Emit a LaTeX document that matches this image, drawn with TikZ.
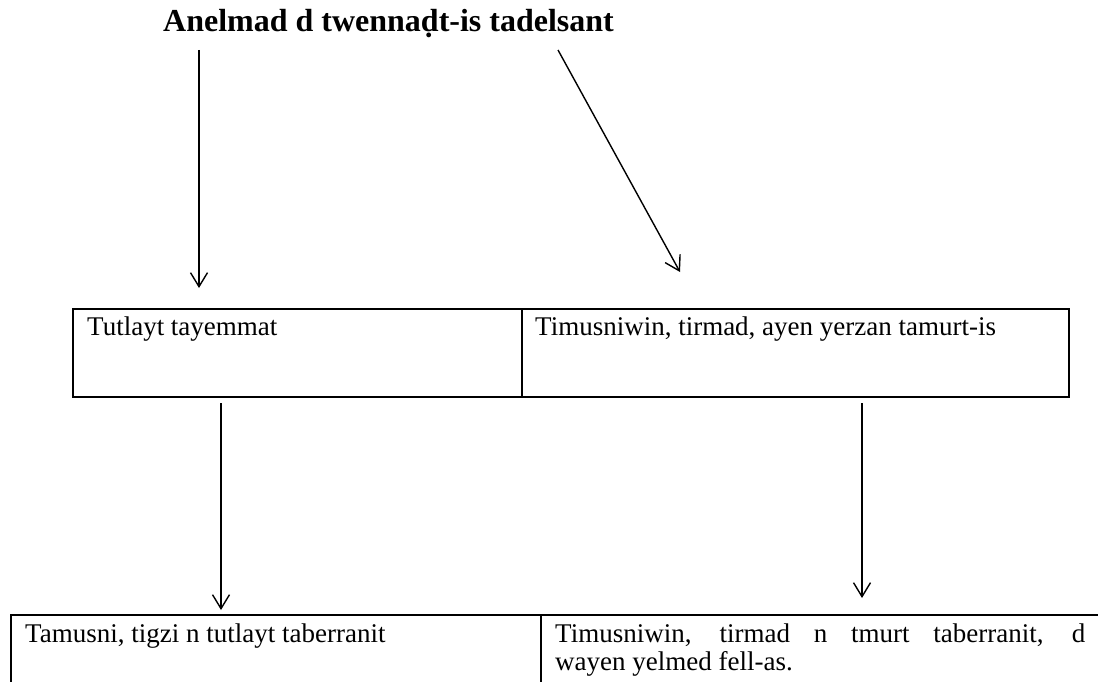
\documentclass[tikz,border=0pt]{standalone}
\usepackage{fontspec}
\setmainfont{Liberation Serif}
\usetikzlibrary{arrows.meta}
\tikzset{
  cellbox/.style={draw, line width=2.4pt, inner sep=0pt, anchor=north west},
  celltext/.style={inner sep=0pt, anchor=base west, font=\fontsize{27}{28}\selectfont},
  flow/.style={line width=1.4pt, -{Straight Barb[length=14pt,width=17pt,line width=1.4pt]}}
}
\begin{document}
\begin{tikzpicture}[x=1pt,y=-1pt]
\clip (0,0) rectangle (1098,682);
% Title
\node [anchor=base west, inner sep=0pt, font=\fontsize{32}{38}\selectfont\bfseries] (title) at (163,32) {Anelmad d twennaḍt-is tadelsant};%

% Drawing upper row
\node [cellbox, minimum width=449pt, minimum height=88pt] (langcell) at (72,308) {};%
\node [cellbox, minimum width=547pt, minimum height=88pt] (landcell) at (521,308) {};%
\node [celltext] (langtext) at (87,335) {Tutlayt tayemmat};%
\node [celltext] (landtext) at (535,335) {Timusniwin, tirmad, ayen yerzan tamurt-is};%

% Drawing lower row
\node [cellbox, minimum width=530pt, minimum height=100pt] (foreigncell) at (10,614) {};%
\node [cellbox, minimum width=580pt, minimum height=100pt] (othercell) at (540,614) {};%
\node [celltext] (foreigntext) at (25,642) {Tamusni, tigzi n tutlayt taberranit};%
\node [celltext] (othertext) at (555,642) {\parbox[t]{530pt}{\hyphenpenalty=10000
  Timusniwin, tirmad n tmurt taberranit, d\linebreak wayen yelmed fell-as.}};%

% Marking arrow ends
\coordinate (a1) at (199,50);
\coordinate (b1) at (199,288);
\coordinate (a2) at (558,50);
\coordinate (b2) at (680,272);
\coordinate (a3) at (221,403);
\coordinate (b3) at (221,610);
\coordinate (a4) at (862,403);
\coordinate (b4) at (862,598);

% Drawing arrows
\draw [flow] (a1) -- (b1);%
\draw [flow] (a2) -- (b2);%
\draw [flow] (a3) -- (b3);%
\draw [flow] (a4) -- (b4);%
\end{tikzpicture}
\end{document}
